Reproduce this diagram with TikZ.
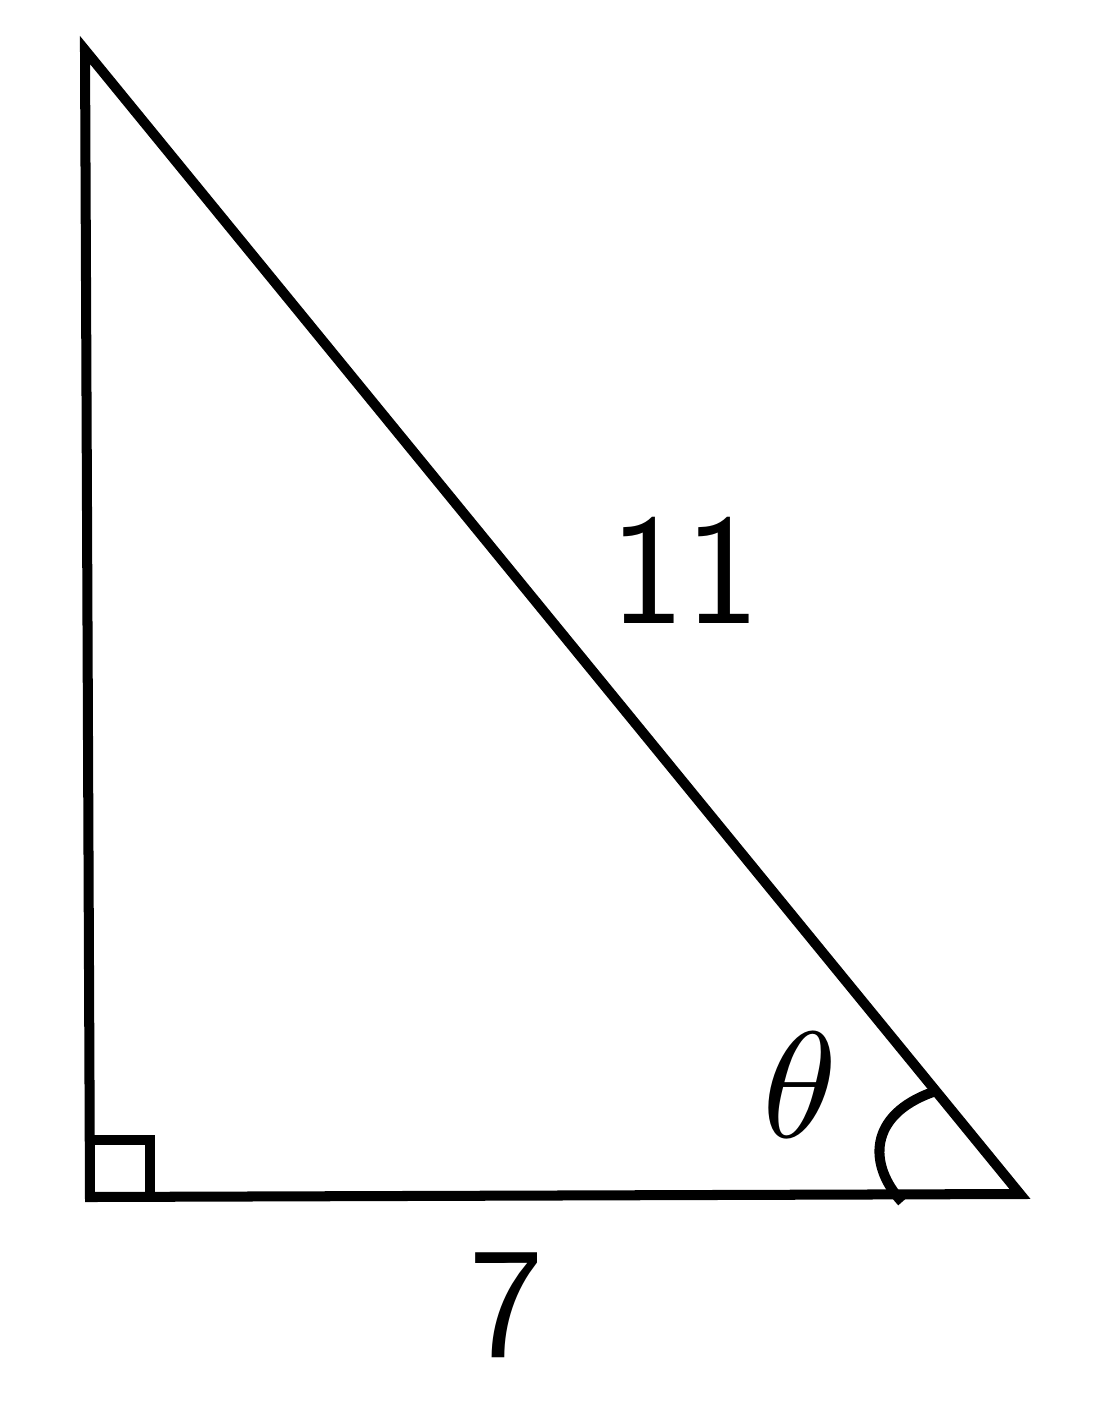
\documentclass[tikz,border=0pt]{standalone}
\usepackage{graphicx}
\begin{document}
\begin{tikzpicture}[x=0.2mm,y=-0.2mm,line width=5.7pt]
\useasboundingbox (0,0) rectangle (1118,1426);
\coordinate (top) at (85,50);
\coordinate (corner) at (90,1197);
\coordinate (tip) at (1020,1194);
\draw [line join=miter] (top) -- (corner) -- (tip) -- cycle;
\draw (90,1140) -- (150,1140) -- (150,1197);
\draw (933,1092) .. controls (868,1115) and (868,1165) .. (902,1202);
\node (hyp) at (685,570) {\fontsize{90}{100}\selectfont\sffamily 11};
\node (base) at (507,1305) {\fontsize{90}{100}\selectfont\sffamily 7};
\node (angle) at (800,1085) {\scalebox{8.6}{$\theta$}};
\end{tikzpicture}
\end{document}
